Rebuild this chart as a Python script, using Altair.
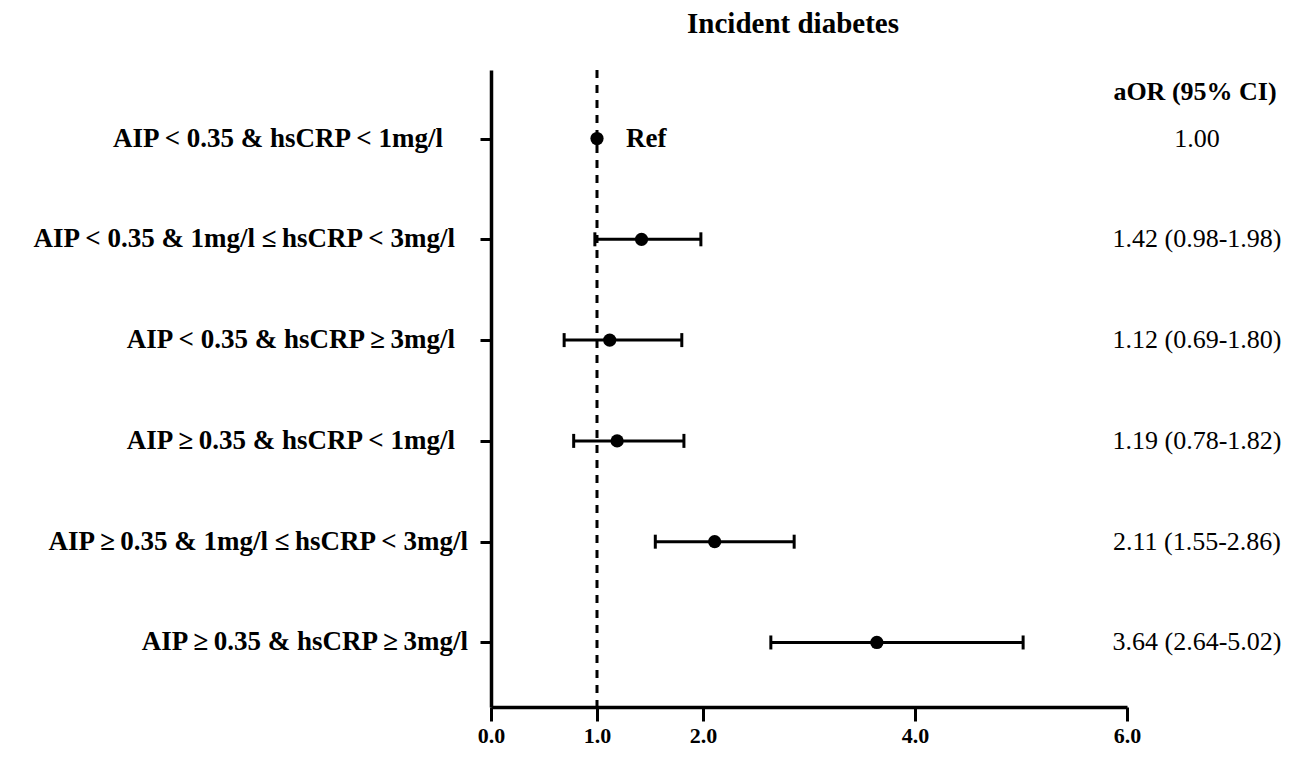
import altair as alt
import pandas as pd

TS = "\u2009"  # thin space: the reference's ≥/≤ glyphs are wide
labels = [
    "AIP < 0.35 & hsCRP < 1mg/l",
    "AIP < 0.35 & 1mg/l ≤" + TS + "hsCRP < 3mg/l",
    "AIP < 0.35 & hsCRP ≥" + TS + "3mg/l",
    "AIP ≥" + TS + "0.35 & hsCRP < 1mg/l",
    "AIP ≥" + TS + "0.35 & 1mg/l ≤" + TS + "hsCRP < 3mg/l",
    "AIP ≥" + TS + "0.35 & hsCRP ≥" + TS + "3mg/l",
]
or_vals = [1.00, 1.42, 1.12, 1.19, 2.11, 3.64]
ci_lo = [None, 0.98, 0.69, 0.78, 1.55, 2.64]
ci_hi = [None, 1.98, 1.80, 1.82, 2.86, 5.02]
ci_text = ["1.00", "1.42 (0.98-1.98)", "1.12 (0.69-1.80)", "1.19 (0.78-1.82)",
           "2.11 (1.55-2.86)", "3.64 (2.64-5.02)"]
x_ticks = [0, 1, 2, 4, 6]
ref_value = 1.0
title_text = "Incident diabetes"
header_text = "aOR (95% CI)"

df = pd.DataFrame({"label": labels, "or": or_vals, "lo": ci_lo, "hi": ci_hi, "ci": ci_text,
                   "row": list(range(len(labels)))})
df["is_ref"] = df["lo"].isna()

SERIF = "Liberation Serif"

y_scale = alt.Scale(type="point", padding=0.66, align=0.515)
y_enc = alt.Y(
    "label:N", sort=labels, scale=y_scale,
    axis=alt.Axis(title=None, labels=False, tickSize=11, tickWidth=3, tickColor="black",
                  domainWidth=3.5, domainColor="black", grid=False),
)
y_plain = alt.Y("label:N", sort=labels, scale=y_scale)
x_scale = alt.Scale(domain=[0, 6], nice=False)
x_enc = alt.X(
    "or:Q", scale=x_scale,
    axis=alt.Axis(title=None, values=x_ticks, format=".1f", labelFont=SERIF,
                  labelFontWeight="bold", labelFontSize=22, labelColor="black",
                  labelFlush=False, tickSize=14, tickWidth=3, tickColor="black",
                  domainWidth=3.5, domainColor="black", labelPadding=4, grid=False),
)

base = alt.Chart(df)

ref_line = alt.Chart(pd.DataFrame({"x": [ref_value]})).mark_rule(
    strokeDash=[8, 7], strokeWidth=3, color="black"
).encode(x=alt.X("x:Q", scale=x_scale))

bars = base.transform_filter("datum.is_ref == false").mark_rule(
    strokeWidth=3, color="black"
).encode(x=alt.X("lo:Q", scale=x_scale), x2="hi:Q", y=y_enc)

caps = base.transform_filter("datum.is_ref == false").transform_fold(
    ["lo", "hi"], as_=["end", "val"]
).mark_tick(thickness=3, size=14, color="black", opacity=1).encode(
    x=alt.X("val:Q", scale=x_scale), y=y_plain
)

points = base.mark_circle(size=175, color="black", opacity=1).encode(x=x_enc, y=y_plain)

ref_text = base.transform_filter("datum.is_ref").mark_text(
    text="Ref", align="left", baseline="middle", dx=29, font=SERIF, fontWeight="bold",
    fontSize=27, color="black"
).encode(x=alt.X("or:Q", scale=x_scale), y=y_plain)

# row labels (right edges follow the reference's slightly ragged alignment)
label_style = dict(align="right", baseline="middle", font=SERIF, fontWeight="bold",
                   fontSize=27, color="black")
lab_a = base.transform_filter("datum.row == 0").mark_text(**label_style).encode(
    x=alt.value(-48), y=y_plain, text="label:N")
lab_b = base.transform_filter("datum.row >= 1 && datum.row <= 3").mark_text(**label_style).encode(
    x=alt.value(-36), y=y_plain, text="label:N")
lab_c = base.transform_filter("datum.row >= 4").mark_text(**label_style).encode(
    x=alt.value(-23), y=y_plain, text="label:N")

ci_col = base.mark_text(
    align="center", baseline="middle", font=SERIF, fontSize=26, color="black"
).encode(x=alt.value(706), y=y_plain, text="ci:N")

header = alt.Chart(pd.DataFrame({"t": [header_text]})).mark_text(
    align="center", baseline="middle", font=SERIF, fontWeight="bold", fontSize=26,
    color="black"
).encode(x=alt.value(704), y=alt.value(22), text="t:N")

title = alt.Chart(pd.DataFrame({"t": [title_text]})).mark_text(
    align="center", baseline="alphabetic", font=SERIF, fontWeight="bold", fontSize=29,
    color="black"
).encode(x=alt.value(302), y=alt.value(-37), text="t:N")

chart = alt.layer(ref_line, bars, caps, points, ref_text, lab_a, lab_b, lab_c,
                  ci_col, header, title).properties(
    width=636, height=637,
    autosize=alt.AutoSizeParams(type="none"),
    padding={"left": 483, "top": 62, "right": 160, "bottom": 44},
).configure_view(stroke=None)

chart.save("out.html", embed_options={"renderer": "svg", "actions": False})
